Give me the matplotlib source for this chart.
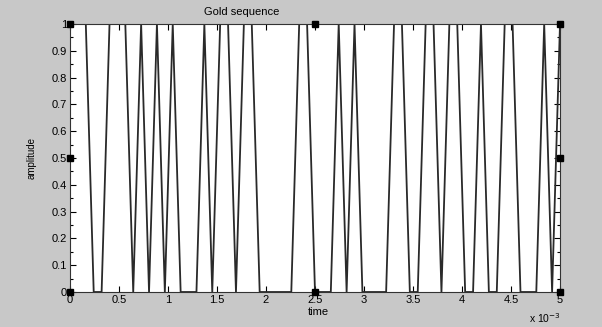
import numpy as np
import matplotlib
matplotlib.use('Agg')
import matplotlib.pyplot as plt

''' Gold sequence chips (one sample per chip) '''
chips = [1, 1, 1, 0, 0, 1, 1, 1, 0, 1, 0, 1, 0, 1, 0, 0,
         0, 1, 0, 1, 1, 0, 1, 1, 0, 0, 0, 0, 0, 1, 1, 0,
         0, 0, 1, 0, 1, 0, 0, 0, 0, 1, 1, 0, 0, 1, 1, 0,
         1, 1, 0, 0, 1, 0, 0, 1, 1, 0, 0, 0, 1, 0, 1]
t_end = 5e-3
t = np.linspace(0, t_end, len(chips))

xticks = [0, 0.5e-3, 1e-3, 1.5e-3, 2e-3, 2.5e-3, 3e-3, 3.5e-3, 4e-3, 4.5e-3, 5e-3]
xtick_labels = ['0', '0.5', '1', '1.5', '2', '2.5', '3', '3.5', '4', '4.5', '5']
yticks = [0, 0.1, 0.2, 0.3, 0.4, 0.5, 0.6, 0.7, 0.8, 0.9, 1]
ytick_labels = ['0', '0.1', '0.2', '0.3', '0.4', '0.5', '0.6', '0.7', '0.8', '0.9', '1']

plt.rcParams['font.family'] = ['Liberation Sans', 'DejaVu Sans']

fig = plt.figure(figsize=(6.02, 3.27), dpi=100, facecolor='#c8c8c8')
ax = fig.add_axes([70 / 602, 1 - 292 / 327, 490 / 602, 268 / 327])
ax.set_facecolor('white')

''' Plot '''
ax.plot(t, chips, color='#2a2a2a', lw=1.3, solid_joinstyle='miter')

ax.set_xlim(0, t_end)
ax.set_ylim(0, 1)
ax.set_xticks(xticks)
ax.set_xticklabels(xtick_labels)
ax.set_yticks(yticks)
ax.set_yticklabels(ytick_labels)
ax.set_yticks(np.arange(0.05, 1, 0.1), minor=True)
ax.tick_params(direction='in', length=4, width=0.8, labelsize=8,
               top=True, right=True, pad=2)
ax.tick_params(which='minor', direction='in', length=2, width=0.8,
               left=True, right=True)
for s in ax.spines.values():
    s.set_linewidth(0.8)
    s.set_color('#333333')

''' Labels '''
fig.text(242 / 602, 1 - 12 / 327, 'Gold sequence', ha='center', va='center', fontsize=8)
fig.text(318 / 602, 1 - 312 / 327, 'time', ha='center', va='center', fontsize=8)
fig.text(32 / 602, 1 - 158 / 327, 'amplitude', ha='center', va='center',
         rotation=90, fontsize=7)
fig.text(545 / 602, 1 - 318 / 327, r'x 10$^{-3}$', ha='center', va='center', fontsize=7.5)

''' Selection handles '''
handles_x = [0, 0, 0, 0.5, 0.5, 1, 1, 1]
handles_y = [1, 0.5, 0, 1, 0, 1, 0.5, 0]
ax.plot(handles_x, handles_y, 's', color='black', ms=5, transform=ax.transAxes,
        clip_on=False, zorder=5)

fig.savefig('out.png', dpi=100, facecolor=fig.get_facecolor())
